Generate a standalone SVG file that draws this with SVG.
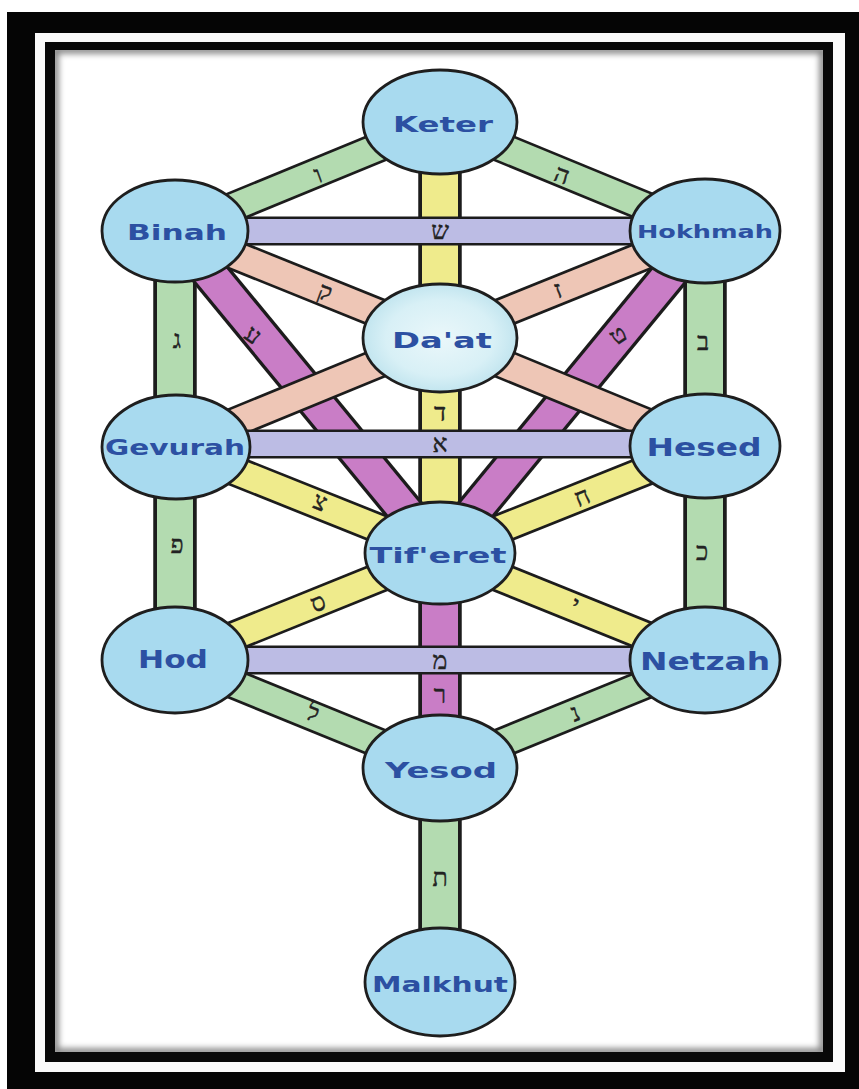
<svg xmlns="http://www.w3.org/2000/svg" width="859" height="1089" viewBox="0 0 859 1089">
<defs>
<style>
.e{stroke:#1c1c1c;stroke-width:29;stroke-linecap:butt}
.f{stroke-width:24;stroke-linecap:butt}
.gr{stroke:#b3dbb0}
.ye{stroke:#efeb8c}
.pu{stroke:#c97dc6}
.la{stroke:#bcbce4}
.pe{stroke:#eec6b6}
.node{fill:#a8daef;stroke:#1e1e1e;stroke-width:2.8}
.lbl{font-family:"DejaVu Sans","Liberation Sans",sans-serif;font-weight:bold;fill:#2c50a2;text-anchor:middle}
.heb{font-family:"Liberation Serif","DejaVu Serif",serif;font-size:25px;fill:#222;text-anchor:middle;stroke:#222;stroke-width:0.4}
</style>
<radialGradient id="daat" cx="0.5" cy="0.5" r="0.5">
<stop offset="0" stop-color="#eaf7fa"/>
<stop offset="0.7" stop-color="#d8f0f6"/>
<stop offset="1" stop-color="#c2e5ef"/>
</radialGradient>
<filter id="blur" x="-5%" y="-5%" width="110%" height="110%"><feGaussianBlur stdDeviation="3"/></filter>
<clipPath id="inner"><rect x="55" y="50" width="768" height="1002"/></clipPath>
</defs>

<g id="frame">
<rect x="7" y="12" width="852" height="1077" fill="#050505"/>
<rect x="35" y="33" width="810" height="1039" fill="#fafafa"/>
<rect x="45" y="42" width="788" height="1020" fill="#080808"/>
<rect x="55" y="50" width="768" height="1002" fill="#ffffff"/>
<rect x="55" y="50" width="768" height="1002" fill="none" stroke="#000" stroke-width="7" filter="url(#blur)" clip-path="url(#inner)" opacity="0.5"/>
</g>

<g id="connectors">
<g transform="matrix(1.5,0,0,1,-220,0)">
<g id="p-keter-tiferet"><line class="e" x1="440" y1="122" x2="440" y2="553"/><line class="f ye" x1="440" y1="122" x2="440" y2="553"/></g>
<g id="p-tiferet-yesod"><line class="e" x1="440" y1="553" x2="440" y2="768"/><line class="f pu" x1="440" y1="553" x2="440" y2="768"/></g>
<g id="p-keter-binah"><line class="e" x1="440" y1="122" x2="263.33" y2="231"/><line class="f gr" x1="440" y1="122" x2="263.33" y2="231"/></g>
<g id="p-keter-hokhmah"><line class="e" x1="440" y1="122" x2="616.67" y2="231"/><line class="f gr" x1="440" y1="122" x2="616.67" y2="231"/></g>
<g id="p-binah-gevurah"><line class="e" x1="263.33" y1="231" x2="263.33" y2="447"/><line class="f gr" x1="263.33" y1="231" x2="263.33" y2="447"/></g>
<g id="p-hokhmah-hesed"><line class="e" x1="616.67" y1="231" x2="616.67" y2="447"/><line class="f gr" x1="616.67" y1="231" x2="616.67" y2="447"/></g>
<g id="p-gevurah-hod"><line class="e" x1="263.33" y1="447" x2="263.33" y2="660"/><line class="f gr" x1="263.33" y1="447" x2="263.33" y2="660"/></g>
<g id="p-hesed-netzah"><line class="e" x1="616.67" y1="447" x2="616.67" y2="660"/><line class="f gr" x1="616.67" y1="447" x2="616.67" y2="660"/></g>
<g id="p-hod-yesod"><line class="e" x1="263.33" y1="660" x2="440" y2="768"/><line class="f gr" x1="263.33" y1="660" x2="440" y2="768"/></g>
<g id="p-netzah-yesod"><line class="e" x1="616.67" y1="660" x2="440" y2="768"/><line class="f gr" x1="616.67" y1="660" x2="440" y2="768"/></g>
<g id="p-yesod-malkhut"><line class="e" x1="440" y1="768" x2="440" y2="982"/><line class="f gr" x1="440" y1="768" x2="440" y2="982"/></g>
<g id="p-gevurah-tiferet"><line class="e" x1="263.33" y1="447" x2="440" y2="553"/><line class="f ye" x1="263.33" y1="447" x2="440" y2="553"/></g>
<g id="p-hesed-tiferet"><line class="e" x1="616.67" y1="447" x2="440" y2="553"/><line class="f ye" x1="616.67" y1="447" x2="440" y2="553"/></g>
<g id="p-tiferet-hod"><line class="e" x1="440" y1="553" x2="263.33" y2="660"/><line class="f ye" x1="440" y1="553" x2="263.33" y2="660"/></g>
<g id="p-tiferet-netzah"><line class="e" x1="440" y1="553" x2="616.67" y2="660"/><line class="f ye" x1="440" y1="553" x2="616.67" y2="660"/></g>
<g id="p-binah-tiferet"><line class="e" x1="263.33" y1="231" x2="440" y2="553"/><line class="f pu" x1="263.33" y1="231" x2="440" y2="553"/></g>
<g id="p-hokhmah-tiferet"><line class="e" x1="616.67" y1="231" x2="440" y2="553"/><line class="f pu" x1="616.67" y1="231" x2="440" y2="553"/></g>
<g id="p-binah-daat"><line class="e" x1="263.33" y1="231" x2="440" y2="338"/><line class="f pe" x1="263.33" y1="231" x2="440" y2="338"/></g>
<g id="p-hokhmah-daat"><line class="e" x1="616.67" y1="231" x2="440" y2="338"/><line class="f pe" x1="616.67" y1="231" x2="440" y2="338"/></g>
<g id="p-daat-gevurah"><line class="e" x1="440" y1="338" x2="263.33" y2="447"/><line class="f pe" x1="440" y1="338" x2="263.33" y2="447"/></g>
<g id="p-daat-hesed"><line class="e" x1="440" y1="338" x2="616.67" y2="447"/><line class="f pe" x1="440" y1="338" x2="616.67" y2="447"/></g>
<g id="p-binah-hokhmah"><line class="e" x1="263.33" y1="231" x2="616.67" y2="231"/><line class="f la" x1="263.33" y1="231" x2="616.67" y2="231"/></g>
<g id="p-gevurah-hesed"><line class="e" x1="263.33" y1="444" x2="616.67" y2="444"/><line class="f la" x1="263.33" y1="444" x2="616.67" y2="444"/></g>
<g id="p-hod-netzah"><line class="e" x1="263.33" y1="660" x2="616.67" y2="660"/><line class="f la" x1="263.33" y1="660" x2="616.67" y2="660"/></g>
</g>
<g id="letters">
<text class="heb" x="318" y="183" transform="rotate(-20 318 175)">ו</text>
<text class="heb" x="562" y="183" transform="rotate(20 562 175)">ה</text>
<text class="heb" x="440" y="239">ש</text>
<text class="heb" x="325" y="300" transform="rotate(20 325 292)">ק</text>
<text class="heb" x="558" y="298" transform="rotate(-20 558 290)">ז</text>
<text class="heb" x="177" y="348">ג</text>
<text class="heb" x="703" y="350">ב</text>
<text class="heb" x="253" y="343" transform="rotate(35 253 335)">ע</text>
<text class="heb" x="618" y="343" transform="rotate(-35 618 335)">ט</text>
<text class="heb" x="440" y="421">ד</text>
<text class="heb" x="440" y="452">א</text>
<text class="heb" x="320" y="510" transform="rotate(22 320 502)">צ</text>
<text class="heb" x="582" y="505" transform="rotate(-22 582 497)">ח</text>
<text class="heb" x="177" y="553">פ</text>
<text class="heb" x="702" y="560">כ</text>
<text class="heb" x="318" y="611" transform="rotate(-22 318 603)">ס</text>
<text class="heb" x="575" y="613" transform="rotate(22 575 605)">י</text>
<text class="heb" x="440" y="669">מ</text>
<text class="heb" x="440" y="703">ר</text>
<text class="heb" x="313" y="721" transform="rotate(22 313 713)">ל</text>
<text class="heb" x="575" y="721" transform="rotate(-22 575 713)">נ</text>
<text class="heb" x="440" y="886">ת</text>
</g>
</g>

<g id="keter"><ellipse class="node" cx="440" cy="122" rx="77" ry="52"/><text class="lbl" x="443" y="132" font-size="21" textLength="100" lengthAdjust="spacingAndGlyphs">Keter</text></g>
<g id="binah"><ellipse class="node" cx="175" cy="231" rx="73" ry="51"/><text class="lbl" x="177" y="240" font-size="22" textLength="100" lengthAdjust="spacingAndGlyphs">Binah</text></g>
<g id="hokhmah"><ellipse class="node" cx="705" cy="231" rx="75" ry="52"/><text class="lbl" x="705" y="238" font-size="17" textLength="136" lengthAdjust="spacingAndGlyphs">Hokhmah</text></g>
<g id="daat"><ellipse cx="440" cy="338" rx="77" ry="54" fill="url(#daat)" stroke="#1e1e1e" stroke-width="2.8"/><text class="lbl" x="442" y="348" font-size="22" textLength="100" lengthAdjust="spacingAndGlyphs">Da'at</text></g>
<g id="gevurah"><ellipse class="node" cx="176" cy="447" rx="74" ry="52"/><text class="lbl" x="175" y="455" font-size="22" textLength="140" lengthAdjust="spacingAndGlyphs">Gevurah</text></g>
<g id="hesed"><ellipse class="node" cx="705" cy="446" rx="75" ry="52"/><text class="lbl" x="704" y="456" font-size="24" textLength="115" lengthAdjust="spacingAndGlyphs">Hesed</text></g>
<g id="tiferet"><ellipse class="node" cx="440" cy="553" rx="75" ry="51"/><text class="lbl" x="438" y="563" font-size="22" textLength="137" lengthAdjust="spacingAndGlyphs">Tif'eret</text></g>
<g id="hod"><ellipse class="node" cx="175" cy="660" rx="73" ry="53"/><text class="lbl" x="173" y="668" font-size="24" textLength="70" lengthAdjust="spacingAndGlyphs">Hod</text></g>
<g id="netzah"><ellipse class="node" cx="705" cy="660" rx="75" ry="53"/><text class="lbl" x="705" y="670" font-size="24" textLength="130" lengthAdjust="spacingAndGlyphs">Netzah</text></g>
<g id="yesod"><ellipse class="node" cx="440" cy="768" rx="77" ry="53"/><text class="lbl" x="441" y="778" font-size="22" textLength="112" lengthAdjust="spacingAndGlyphs">Yesod</text></g>
<g id="malkhut"><ellipse class="node" cx="440" cy="982" rx="75" ry="54"/><text class="lbl" x="440" y="992" font-size="22" textLength="136" lengthAdjust="spacingAndGlyphs">Malkhut</text></g>
</svg>
